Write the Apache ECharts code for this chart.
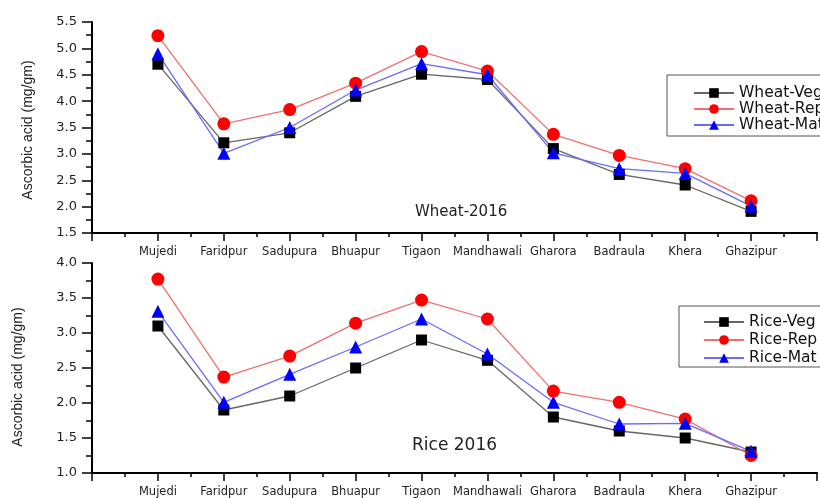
<!DOCTYPE html>
<html><head><meta charset="utf-8">
<script src="https://cdn.jsdelivr.net/npm/echarts@6/dist/echarts.min.js"></script>
<style>html,body{margin:0;padding:0;background:#fff}#c{width:820px;height:498px}</style>
</head><body><div id="c"></div>
<script>
var categories = ['Mujedi','Faridpur','Sadupura','Bhuapur','Tigaon','Mandhawali','Gharora','Badraula','Khera','Ghazipur'];
var wheatVeg = [4.70, 3.21, 3.40, 4.09, 4.51, 4.41, 3.10, 2.61, 2.41, 1.91];
var wheatRep = [5.24, 3.57, 3.84, 4.34, 4.94, 4.57, 3.37, 2.97, 2.72, 2.11];
var wheatMat = [4.90, 3.01, 3.50, 4.21, 4.71, 4.50, 3.02, 2.72, 2.63, 2.01];
var riceVeg = [3.10, 1.90, 2.10, 2.50, 2.90, 2.61, 1.80, 1.60, 1.50, 1.30];
var riceRep = [3.77, 2.37, 2.67, 3.14, 3.47, 3.20, 2.17, 2.01, 1.77, 1.25];
var riceMat = [3.31, 2.01, 2.41, 2.80, 3.20, 2.70, 2.01, 1.70, 1.71, 1.31];
var wheatTicks = {min: 1.5, max: 5.5, interval: 0.5};
var riceTicks = {min: 1.0, max: 4.0, interval: 0.5};

function pts(arr){ return arr.map(function(v,i){ return [i+1, v]; }); }
var FONT = 'DejaVu Sans, sans-serif';
var FONT2 = 'Liberation Sans, Arial, sans-serif';
var styles = {
  veg: {symbol:'rect', symbolSize:11, line:'#666666', mark:'#000000'},
  rep: {symbol:'circle', symbolSize:13, line:'#f07070', mark:'#ff0000'},
  mat: {symbol:'triangle', symbolSize:13, line:'#6a6aff', mark:'#0000ff'}
};
function mk(name, data, st, idx){
  return {name:name, type:'line', xAxisIndex:idx, yAxisIndex:idx, data:pts(data),
    symbol:st.symbol, symbolSize:st.symbolSize,
    lineStyle:{color:st.line, width:1.3}, itemStyle:{color:st.mark},
    emphasis:{disabled:true}, animation:false};
}
function xAx(idx){
  return {type:'value', gridIndex:idx, min:0, max:11, interval:1,
    axisLine:{show:true, lineStyle:{color:'#000', width:2}},
    axisTick:{show:true, length:8, lineStyle:{color:'#000', width:1.5}},
    minorTick:{show:true, splitNumber:2, length:4, lineStyle:{color:'#000', width:1.5}},
    splitLine:{show:false},
    axisLabel:{margin:13, fontSize:11.5, color:'#222', fontFamily:FONT,
      formatter:function(v){ var i=Math.round(v); return (i>=1&&i<=10&&Math.abs(v-i)<1e-6)?categories[i-1]:''; }}
  };
}
function yAx(idx, t){
  return {type:'value', gridIndex:idx, min:t.min, max:t.max, interval:t.interval,
    axisLine:{show:true, lineStyle:{color:'#000', width:2}},
    axisTick:{show:true, length:10, lineStyle:{color:'#000', width:1.5}},
    minorTick:{show:true, splitNumber:2, length:6, lineStyle:{color:'#000', width:1.5}},
    splitLine:{show:false},
    axisLabel:{margin:15, fontSize:13, color:'#222', fontFamily:FONT,
      formatter:function(v){ return v.toFixed(1); }}
  };
}
var legendText = {fontSize:15.5, lineHeight:15, color:'#111', fontFamily:FONT};
var chart = echarts.init(document.getElementById('c'), null, {renderer:'canvas'});
chart.setOption({
  backgroundColor:'#fff',
  animation:false,
  grid:[{left:92, top:22, right:0, height:211},{left:92, top:263, right:0, height:211}],
  xAxis:[xAx(0), xAx(1)],
  yAxis:[yAx(0, wheatTicks), yAx(1, riceTicks)],
  legend:[
    {data:['Wheat-Veg','Wheat-Rep','Wheat-Mat'], orient:'vertical', left:667, top:75,
     itemWidth:40, itemHeight:12, itemGap:0, padding:[10,10,3,26], borderColor:'#555', borderWidth:1,
     textStyle:legendText},
    {data:['Rice-Veg','Rice-Rep','Rice-Mat'], orient:'vertical', left:679, top:306,
     itemWidth:40, itemHeight:12, itemGap:2, padding:[8,10,1,24], borderColor:'#555', borderWidth:1,
     textStyle:legendText}
  ],
  graphic:[
    {type:'text', left:415, top:205, style:{text:'Wheat-2016', fontSize:15, fill:'#222', fontFamily:FONT}},
    {type:'text', left:412, top:437, style:{text:'Rice 2016', fontSize:17, fill:'#222', fontFamily:FONT}},
    {type:'text', x:28, y:130, rotation:Math.PI/2, style:{text:'Ascorbic acid (mg/gm)', fontSize:14, fill:'#222', fontFamily:FONT2, align:'center', verticalAlign:'middle'}},
    {type:'text', x:18, y:377, rotation:Math.PI/2, style:{text:'Ascorbic acid (mg/gm)', fontSize:14, fill:'#222', fontFamily:FONT2, align:'center', verticalAlign:'middle'}}
  ],
  series:[
    mk('Wheat-Veg', wheatVeg, styles.veg, 0),
    mk('Wheat-Rep', wheatRep, styles.rep, 0),
    mk('Wheat-Mat', wheatMat, styles.mat, 0),
    mk('Rice-Veg', riceVeg, styles.veg, 1),
    mk('Rice-Rep', riceRep, styles.rep, 1),
    mk('Rice-Mat', riceMat, styles.mat, 1)
  ]
});
</script></body></html>
